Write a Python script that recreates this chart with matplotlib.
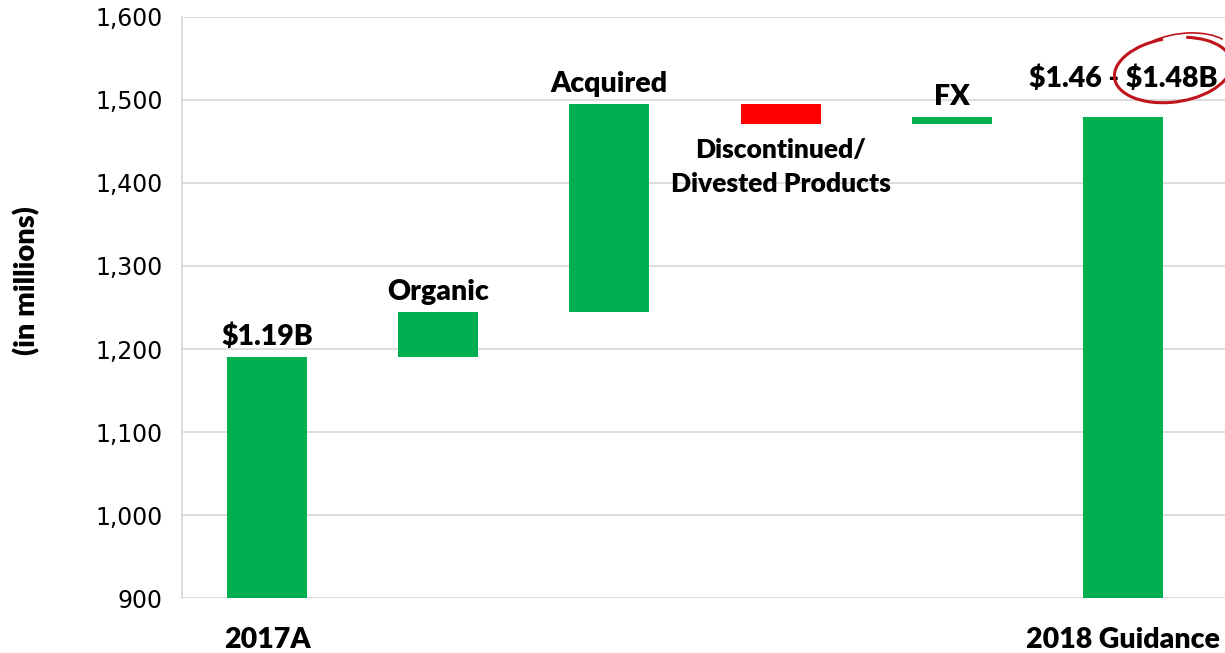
import matplotlib.pyplot as plt
import numpy as np
from matplotlib.patches import Arc
from matplotlib.transforms import IdentityTransform
from matplotlib.ticker import FuncFormatter

plt.rcParams['font.family'] = ['Lato', 'DejaVu Sans']

steps = ["2017A", "Organic", "Acquired", "Discontinued/\nDivested Products", "FX", "2018 Guidance"]
changes = [1190, 55, 250, -24, 9]
total_2018 = 1480
bar_labels = [r"\$1.19B", "Organic", "Acquired", "Discontinued/\nDivested Products", "FX",
              r"\$1.46 - \$1.48B"]
yticks = [900, 1000, 1100, 1200, 1300, 1400, 1500, 1600]

green = "#00b050"
red = "#ff0000"

# floating bars
bottoms, heights, colors = [], [], []
level = 900
for i, c in enumerate(changes):
    if i == 0:
        bottoms.append(900)
        heights.append(c - 900)
        level = c
    else:
        start = level
        level = level + c
        bottoms.append(min(start, level))
        heights.append(abs(c))
    colors.append(green if c >= 0 else red)
bottoms.append(900)
heights.append(total_2018 - 900)
colors.append(green)

fig = plt.figure(figsize=(12.25, 6.53), dpi=100)
ax = fig.add_axes([0.1486, 0.0842, 0.8514, 0.8898])

x = np.arange(len(steps))
ax.bar(x, heights, bottom=bottoms, width=0.467, color=colors, zorder=3)

ax.set_ylim(900, 1600)
ax.set_xlim(-0.496, 5.596)
ax.set_yticks(yticks)
ax.yaxis.set_major_formatter(FuncFormatter(lambda v, p: f"{int(v):,}"))
ax.tick_params(axis='y', length=0, labelsize=17, pad=14)
for lab in ax.get_yticklabels():
    lab.set_family('DejaVu Sans')
ax.grid(axis='y', color="#d9d9d9", linewidth=1.3, zorder=0)
for s in ["top", "right", "bottom"]:
    ax.spines[s].set_visible(False)
ax.spines["left"].set_color("#d9d9d9")
ax.spines["left"].set_linewidth(1.3)

ax.set_xticks([0, 5])
ax.set_xticklabels([steps[0], steps[5]], fontsize=20.5, fontweight='heavy')
ax.tick_params(axis='x', length=0, pad=21)

fig.text(0.022, 0.571, "(in millions)", rotation=90, fontsize=21, fontweight='heavy',
         ha='center', va='center')

# labels over / under bars
offsets = [5, 5, 5, None, 5, 18]
for i, lab in enumerate(bar_labels):
    top = bottoms[i] + heights[i]
    if offsets[i] is None:
        ax.annotate(lab, (i, bottoms[i]), xytext=(0, -10), textcoords='offset points',
                    ha='center', va='top', fontsize=19, fontweight='heavy',
                    linespacing=1.5)
    else:
        ax.annotate(lab, (i, top), xytext=(0, offsets[i]), textcoords='offset points',
                    ha='center', va='bottom', fontsize=20.5, fontweight='heavy')

# hand-drawn circle around $1.48B (pixel coordinates)
H = 653
ax.add_patch(Arc((1173, H - 70), 118, 64, angle=8, theta1=100, theta2=420,
                 transform=IdentityTransform(), color="#c0141c", lw=2.2,
                 clip_on=False, zorder=5))
ax.add_patch(Arc((1180, H - 64), 112, 60, angle=10, theta1=20, theta2=130,
                 transform=IdentityTransform(), color="#c0141c", lw=1.2,
                 clip_on=False, zorder=5))

fig.savefig("out.png", dpi=100)
